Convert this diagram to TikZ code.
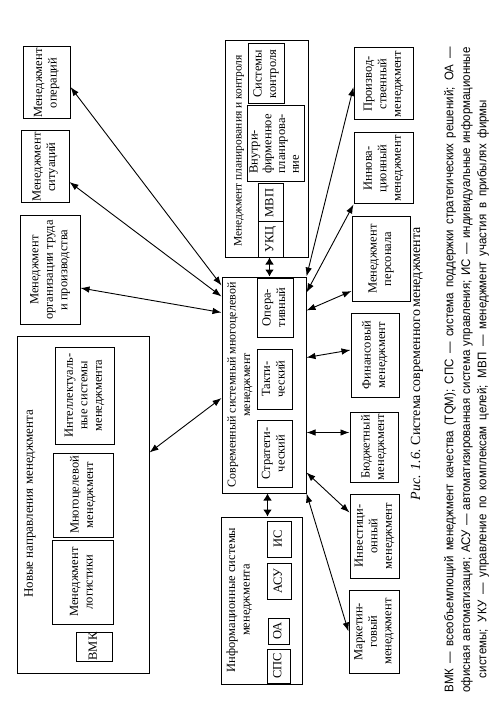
\documentclass[tikz,border=0pt]{standalone}
\usepackage{fontspec}
\setmainfont{Liberation Serif}
\newfontfamily\narrowsans{Liberation Sans}[FakeStretch=0.92]
\usepackage{graphicx}
\usetikzlibrary{arrows.meta,calc}
\newcommand\rtx[2][c]{\rotatebox{90}{\begin{tabular}{@{}#1@{}}#2\end{tabular}}}
\newcommand\bx[6]{\node[box, minimum width={(#4-#2)*1pt}, minimum height={(#5-#3)*1pt}] (#1) at ({(#2+#4)/2},{(#3+#5)/2}) {#6};}
\begin{document}
\begin{tikzpicture}[x=1pt,y=-1pt,
  every node/.style={font=\fontsize{12.5}{14.5}\selectfont, inner sep=0pt},
  box/.style={draw, line width=1pt, inner sep=0pt, anchor=center},
  arr/.style={line width=0.9pt, arrows={Latex[length=9pt,width=6.5pt]-Latex[length=9pt,width=6.5pt]}},
  tarr/.style={line width=1.8pt, arrows={Latex[length=7pt,width=9pt]-Latex[length=7pt,width=9pt]}},
  title/.style={font=\fontsize{12}{14.5}\selectfont},
  fn/.style={font=\narrowsans\fontsize{12.5}{14.5}\selectfont}]
\useasboundingbox (0,0) rectangle (503,703);
% left column
\bx{ops}{23}{47}{70}{119}{\rtx{Менеджмент\\операций}}
\bx{sit}{21}{131}{69}{203}{\rtx{Менеджмент\\ситуаций}}
\bx{trud}{20}{216}{80}{324}{\rtx{Менеджмент\\организации труда\\и производства}}
\bx{new}{17}{336}{149}{673}{}
\node[rotate=90, font=\fontsize{13}{14.5}\selectfont] (newt) at (30,504) {Новые направления менеджмента};
\bx{int}{55}{347}{114}{444}{\rtx{Интеллектуаль-\\ные системы\\менеджмента}}
\bx{mnog}{53}{453}{113}{537}{\rtx{Многоцелевой\\менеджмент}}
\bx{log}{52}{540}{113}{624}{\rtx{Менеджмент\\логистики}}
\bx{vmk}{76}{632}{112}{661}{\rtx{ВМК}}
% planning
\bx{plan}{225}{41}{308}{257}{}
\node[rotate=90, font=\fontsize{11.5}{14}\selectfont] (plant) at (239,151) {Менеджмент планирования и контроля};
\bx{sk}{248}{44}{284}{104}{\rtx{Системы\\контроля}}
\bx{vnp}{247}{106}{304}{182}{\renewcommand\arraystretch{0.95}\rtx[l]{Внутри-\\фирменное\\планирова-\\ние}}
\bx{mvp}{258}{184}{283}{222}{\rtx{МВП}}
\bx{ukc}{258}{222}{283}{257}{\rtx{УКЦ}}
% central
\bx{cen}{222}{277}{306}{493}{}
\node[title] (cent) at (240,385) {\rtx{Современный системный многоцелевой\\менеджмент}};
\bx{oper}{257}{278}{293}{337}{\rtx{Опера-\\тивный}}
\bx{takt}{257}{349}{292}{409}{\rtx{Такти-\\ческий}}
\bx{strat}{257}{420}{292}{487}{\rtx{Стратеги-\\ческий}}
% information systems
\bx{info}{221}{517}{302}{684}{}
\node (infot) at (239.5,600) {\rtx{Информационные системы\\менеджмента}};
\bx{is}{267}{521}{291}{557}{\rtx{ИС}}
\bx{asu}{267}{563}{291}{599}{\rtx{АСУ}}
\bx{oa}{268}{618}{289}{644}{\rtx{ОА}}
\bx{sps}{267}{649}{290}{683}{\rtx{СПС}}
% right column
\bx{prod}{354}{48}{413}{120}{\rtx{Производ-\\ственный\\менеджмент}}
\bx{inno}{354}{133}{413}{204}{\rtx{Иннова-\\ционный\\менеджмент}}
\bx{pers}{352}{217}{410}{301}{\rtx{Менеджмент\\персонала}}
\bx{fin}{351}{313}{399}{397}{\rtx{Финансовый\\менеджмент}}
\bx{bud}{350}{412}{398}{482}{\rtx{Бюджетный\\менеджмент}}
\bx{inv}{350}{494}{399}{578}{\rtx{Инвестици-\\онный\\менеджмент}}
\bx{mark}{349}{590}{399}{673}{\rtx{Маркетин-\\говый\\менеджмент}}
% connectors
\draw[arr] ($(ops.east)+(0,4)$) -- ($(cen.north west)+(0,9)$);
\draw[arr] ($(sit.east)+(0,15)$) -- ($(cen.north west)+(0,20)$);
\draw[arr] ($(trud.east)+(0,18)$) -- ($(cen.north west)+(0,36)$);
\draw[arr] ($(new.east)+(0,-52)$) -- ($(cen.west)+(0,13)$);
\draw[tarr] ($(plan.south west)+(45,0)$) -- ($(cen.north west)+(48,0)$);
\draw[tarr] ($(cen.south west)+(46,0)$) -- ($(info.north west)+(47,0)$);
\draw[arr] (cen.north east) -- ($(prod.west)+(0,3)$);
\draw[arr] ($(cen.north east)+(0,16)$) -- (inno.south west);
\draw[arr] ($(cen.north east)+(0,34)$) -- ($(pers.west)+(0,32)$);
\draw[arr] ($(cen.north east)+(0,81)$) -- ($(fin.west)+(0,-5)$);
\draw[arr] ($(cen.north east)+(0,156)$) -- ($(bud.north west)+(0,21)$);
\draw[arr] ($(cen.south east)+(0,-21)$) -- ($(inv.north west)+(0,19)$);
\draw[arr] (cen.south east) -- (mark.west);
% caption and legend
\node[font=\fontsize{14}{16}\selectfont] (cap) at (417,364) {\rotatebox{90}{\makebox[272pt][s]{\textit{Рис. 1.6.} Система современного менеджмента}}};
\node[fn] (fn1) at (450,370) {\rotatebox{90}{\makebox[645pt][s]{ВМК — всеобъемлющий менеджмент качества (TQM); СПС — система поддержки стратегических решений; ОА —}}};
\node[fn] (fn2) at (467,370) {\rotatebox{90}{\makebox[645pt][s]{офисная автоматизация; АСУ — автоматизированная система управления; ИС — индивидуальные информационные}}};
\node[fn] (fn3) at (483,389) {\rotatebox{90}{\makebox[578pt][s]{системы; УКУ — управление по комплексам целей; МВП — менеджмент участия в прибылях фирмы}}};
\end{tikzpicture}
\end{document}
